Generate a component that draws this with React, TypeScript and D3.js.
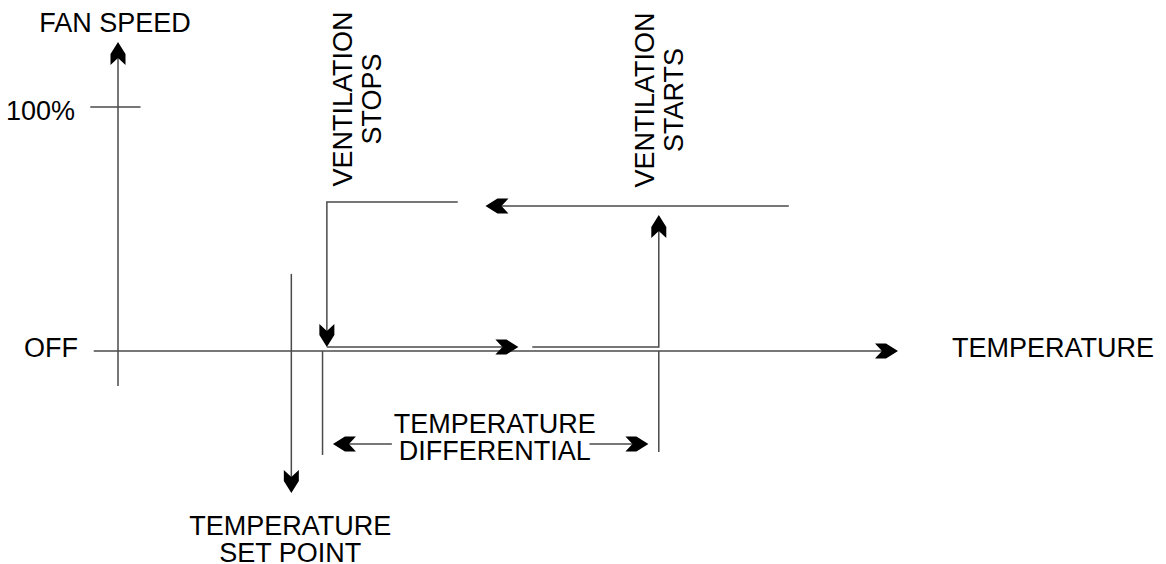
import * as d3 from "d3";

const WIDTH = 1166;
const HEIGHT = 564;

// temperature along the x axis (arbitrary degrees), fan speed in %
const tempDomain = [0, 45];
const speedDomain = [0, 100];

const SET_POINT = 10;
const STOP_TEMP = 11.8;
const START_TEMP = 31.2;

const speedTicks = [
  { label: "OFF", value: 0 },
  { label: "100%", value: 100 },
];

// axis extents in data units
const xAxisSpan = [-1.4, 45];
const yAxisSpan = [-14.3, 126.6];
const fullTickSpan = [-1.6, 1.3];

// vertical marker lines below / across the temperature axis
const markers = [
  { t: SET_POINT, from: 31.6, to: -58.2, arrow: true },
  { t: STOP_TEMP, from: 0, to: -42.6, arrow: false },
  { t: START_TEMP, from: 0, to: -41.4, arrow: false },
];

// hysteresis loop, [temperature, speed] points, arrow on the last point
const cycle: [number, number][][] = [
  [[19.6, 61.1], [12.05, 61.1], [12.05, 1.6]],
  [[12.05, 1.6], [23.1, 1.6]],
  [[23.9, 1.6], [31.2, 1.6], [31.2, 55.7]],
  [[38.7, 59.4], [21.2, 59.4]],
];

// temperature differential dimension arrows
const differentialSpeed = -38.1;
const differentialArrows: [number, number][] = [
  [15.8, 12.4],
  [27.2, 30.6],
];

const setPointLabel = ["TEMPERATURE", "SET POINT"];
const differentialLabel = ["TEMPERATURE", "DIFFERENTIAL"];
const stopLabel = ["VENTILATION", "STOPS"];
const startLabel = ["VENTILATION", "STARTS"];
const yTitle = "FAN SPEED";
const xTitle = "TEMPERATURE";

const x = d3.scaleLinear().domain(tempDomain).range([118, 898]);
const y = d3.scaleLinear().domain(speedDomain).range([351, 107]);

const STROKE = "#4a4a4a";
const LW = 1.5;
const FONT = "'Liberation Sans', Arial, Helvetica, sans-serif";
const FS = 27;
const LINE_GAP = 29;

// arrowhead pointing along +x with its tip at the origin
const ARROW_BACK = 16;
const arrowShape = "M0,0 L-12,-7.5 L-23,-7.5 L-16,0 L-23,7.5 L-12,7.5 Z";

function Arrow({ from, to }: { from: [number, number]; to: [number, number] }) {
  const ang = (Math.atan2(to[1] - from[1], to[0] - from[0]) * 180) / Math.PI;
  return (
    <path
      d={arrowShape}
      fill="#000"
      transform={`translate(${to[0]},${to[1]}) rotate(${ang})`}
    />
  );
}

// a polyline in pixels, shortened under the arrowhead
function ArrowLine({ pts, arrow = true }: { pts: [number, number][]; arrow?: boolean }) {
  const n = pts.length;
  const a = pts[n - 2];
  const b = pts[n - 1];
  let end = b;
  if (arrow) {
    const len = Math.hypot(b[0] - a[0], b[1] - a[1]);
    const k = (len - ARROW_BACK) / len;
    end = [a[0] + (b[0] - a[0]) * k, a[1] + (b[1] - a[1]) * k];
  }
  const line = d3.line();
  return (
    <g>
      <path
        d={line([...pts.slice(0, n - 1), end]) || ""}
        fill="none"
        stroke={STROKE}
        strokeWidth={LW}
      />
      {arrow && <Arrow from={a} to={b} />}
    </g>
  );
}

function VerticalLabel({ lines, bx, cy }: { lines: string[]; bx: number; cy: number }) {
  return (
    <g>
      {lines.map((s, i) => (
        <text
          key={i}
          transform={`translate(${bx + i * LINE_GAP},${cy}) rotate(-90)`}
          textAnchor="middle"
        >
          {s}
        </text>
      ))}
    </g>
  );
}

function StackLabel({ lines, cx, by, gap }: { lines: string[]; cx: number; by: number; gap: number }) {
  return (
    <g>
      {lines.map((s, i) => (
        <text key={i} x={cx} y={by + i * gap} textAnchor="middle">
          {s}
        </text>
      ))}
    </g>
  );
}

export default function App() {
  const px = (d: [number, number]) => [x(d[0]), y(d[1])] as [number, number];
  const y100 = speedTicks.find((d) => d.value === 100)!;

  return (
    <svg
      width={WIDTH}
      height={HEIGHT}
      viewBox={`0 0 ${WIDTH} ${HEIGHT}`}
      style={{ position: "absolute", left: 0, top: 0, background: "#fff" }}
      fontFamily={FONT}
      fontSize={FS}
      fill="#000"
    >
      {/* fan speed axis */}
      <ArrowLine pts={[px([0, yAxisSpan[0]]), px([0, yAxisSpan[1]])]} />
      {/* temperature axis */}
      <ArrowLine pts={[px([xAxisSpan[0], 0]), px([xAxisSpan[1], 0])]} />
      {/* 100% tick */}
      <ArrowLine
        arrow={false}
        pts={[px([fullTickSpan[0], y100.value]), px([fullTickSpan[1], y100.value])]}
      />

      {speedTicks.map((d) => (
        <text
          key={d.label}
          x={x(0) - (d.value === 0 ? 40 : 43)}
          y={y(d.value) + (d.value === 0 ? 6 : 13)}
          textAnchor="end"
        >
          {d.label}
        </text>
      ))}
      <text x={x(0) - 3} y={y(yAxisSpan[1]) - 10} textAnchor="middle">
        {yTitle}
      </text>
      <text x={x(xAxisSpan[1]) + 54} y={y(0) + 6}>
        {xTitle}
      </text>

      {markers.map((m, i) => (
        <ArrowLine key={i} arrow={m.arrow} pts={[px([m.t, m.from]), px([m.t, m.to])]} />
      ))}

      {cycle.map((seg, i) => (
        <ArrowLine key={i} pts={seg.map(px)} />
      ))}

      {differentialArrows.map((d, i) => (
        <ArrowLine key={i} pts={[px([d[0], differentialSpeed]), px([d[1], differentialSpeed])]} />
      ))}

      <StackLabel
        lines={differentialLabel}
        cx={(x(differentialArrows[0][0]) + x(differentialArrows[1][0])) / 2 + 4}
        by={y(differentialSpeed) - 11}
        gap={27}
      />
      <StackLabel lines={setPointLabel} cx={x(SET_POINT) - 1} by={y(-58.2) + 42} gap={27} />

      <VerticalLabel lines={stopLabel} bx={x(STOP_TEMP) + 29} cy={99} />
      <VerticalLabel lines={startLabel} bx={x(START_TEMP) - 5} cy={100} />
    </svg>
  );
}
